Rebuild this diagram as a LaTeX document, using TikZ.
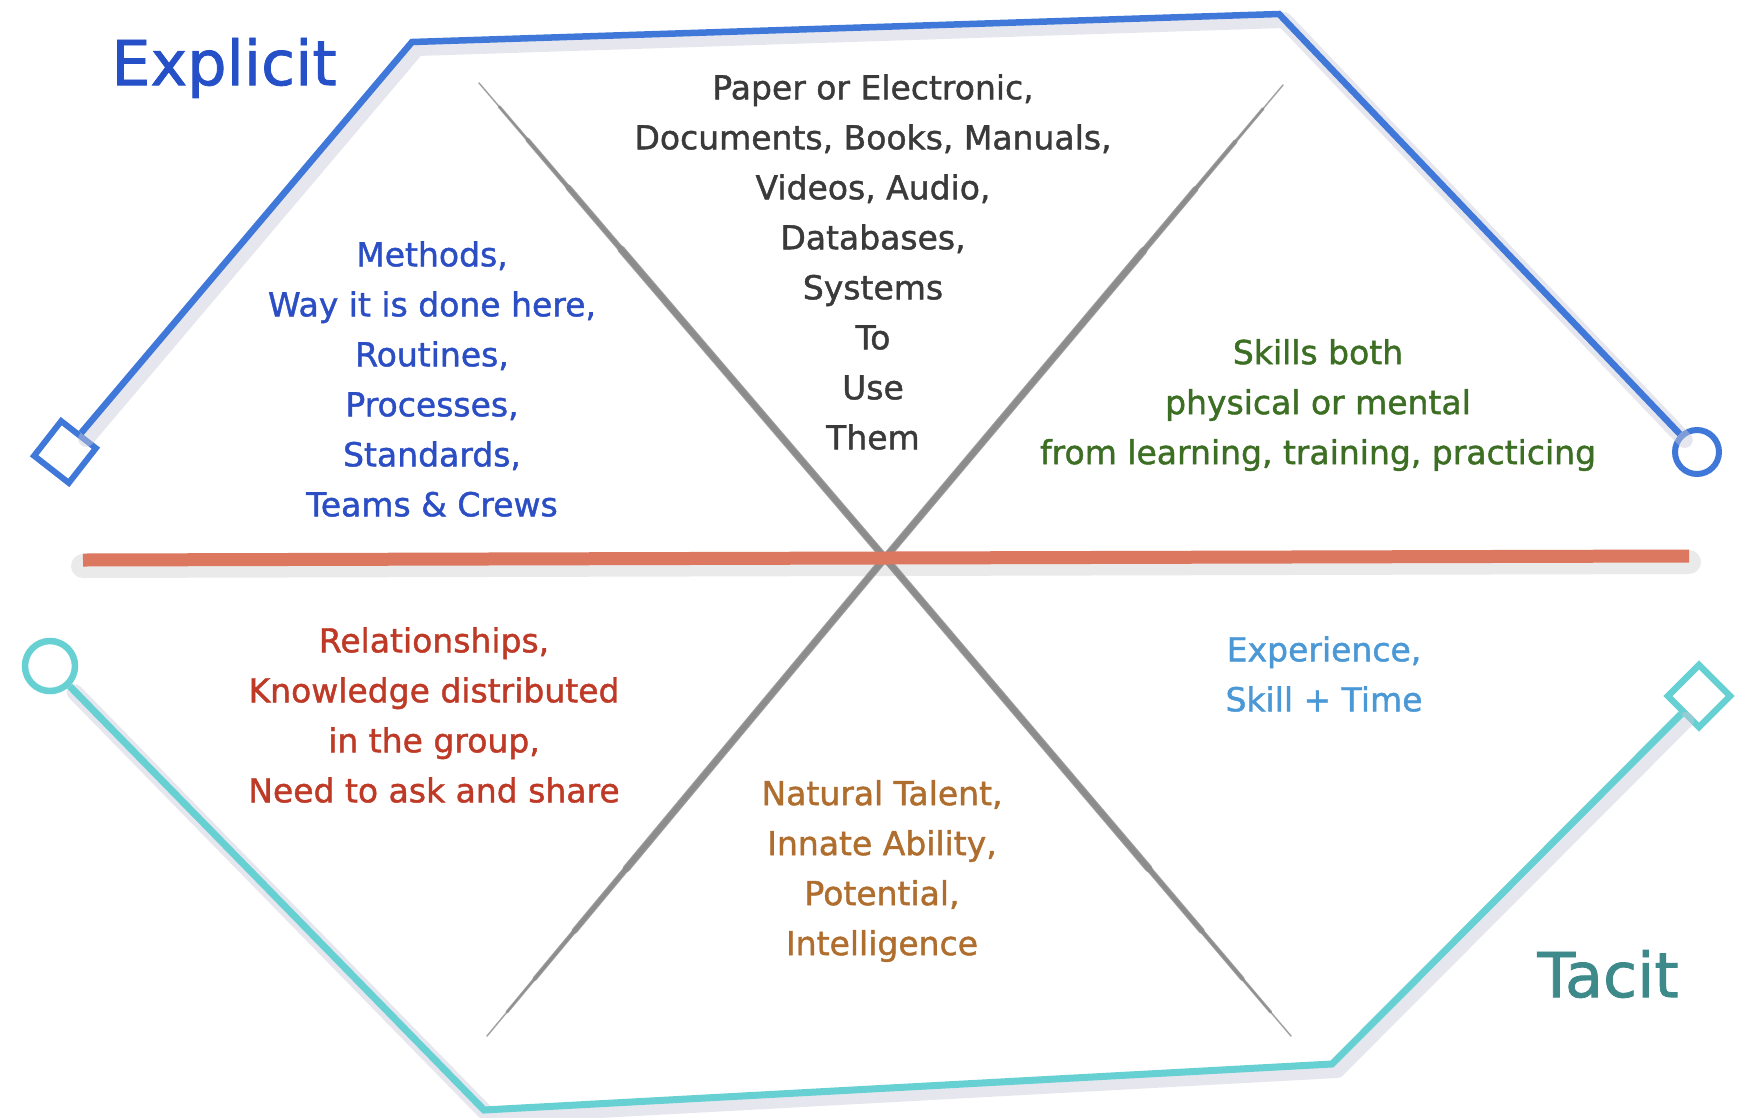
\documentclass[tikz,border=0pt]{standalone}
\usepackage{fontspec}
\setmainfont{DejaVu Sans}
\newfontfamily\sketchfont{DejaVu Sans}[FakeBold=1.3]
\usetikzlibrary{shapes.geometric}
\usetikzlibrary{calc}

\definecolor{explicitBlue}{HTML}{3F78D8}
\definecolor{tacitTeal}{HTML}{66D0D2}
\definecolor{splitRed}{HTML}{DC785F}
\definecolor{crossGray}{HTML}{8C8C8C}
\definecolor{shadowLav}{HTML}{C9C9DA}
\definecolor{methodBlue}{HTML}{2B4EC4}
\definecolor{docGray}{HTML}{3A3A3A}
\definecolor{skillGreen}{HTML}{3C6E23}
\definecolor{relRed}{HTML}{BE3A26}
\definecolor{expBlue}{HTML}{4A98D6}
\definecolor{talentBrown}{HTML}{AF6E2D}
\definecolor{explicitText}{HTML}{2550C8}
\definecolor{tacitText}{HTML}{3E8A8A}

\begin{document}
\begin{tikzpicture}[x = 1pt, y = -1pt]
	\tikzstyle{shadowStyle}=[draw = shadowLav, line width = 16pt, opacity = 0.45, line join = round, line cap = round]
	\tikzstyle{blueStyle}=[draw = explicitBlue, line width = 6.5pt, line join = miter]
	\tikzstyle{tealStyle}=[draw = tacitTeal, line width = 7pt, line join = miter]
	\tikzstyle{crossStyle}=[draw = crossGray, line cap = round, opacity = 0.8]
	\tikzstyle{textStyle}=[align = center, inner sep = 0pt, font = \sketchfont\fontsize{33}{50}\selectfont]
	\tikzstyle{titleStyle}=[inner sep = 0pt, font = \sketchfont\fontsize{62}{62}\selectfont]
	\useasboundingbox[fill = white] (0,0) rectangle (1737,1117);

	\node[shape = rectangle, minimum size = 44pt, rotate = 52, draw = explicitBlue, line width = 6pt] (blueSquare) at (65,452) {};
	\node[shape = circle, minimum size = 44pt, draw = explicitBlue, line width = 6pt] (blueRing) at (1697,452) {};
	\coordinate (blueA) at (412,42);
	\coordinate (blueB) at (1279,14);

	\node[shape = circle, minimum size = 50pt, draw = tacitTeal, line width = 6.5pt] (tealRing) at (50,666) {};
	\node[shape = rectangle, minimum size = 44pt, rotate = 45, draw = tacitTeal, line width = 6.5pt] (tealSquare) at (1699,696) {};
	\coordinate (tealA) at (484,1110);
	\coordinate (tealB) at (1332,1064);

	\coordinate (splitL) at (83,560);
	\coordinate (splitR) at (1689,556);

	\coordinate (crossC) at (885,558);
	\coordinate (crossTL) at (479,83);
	\coordinate (crossTR) at (1283,85);
	\coordinate (crossBL) at (487,1036);
	\coordinate (crossBR) at (1291,1036);

	\draw[shadowStyle, transform canvas = {shift = {(5,6)}}] (blueSquare) -- (blueA) -- (blueB) -- (blueRing);
	\draw[shadowStyle, transform canvas = {shift = {(5,6)}}] (tealRing) -- (tealA) -- (tealB) -- (tealSquare);
	\draw[shadowStyle, line width = 24pt, draw = gray!40, opacity = 0.4, transform canvas = {shift = {(0,6)}}] (splitL) -- (splitR);

	\foreach \w/\f in {1.5/0, 3/0.05, 4.5/0.12, 6/0.22, 7.5/0.35} {
		\draw[crossStyle, line width = \w pt] ($(crossTL)!\f!(crossC)$) -- (crossC) -- ($(crossBR)!\f!(crossC)$);
		\draw[crossStyle, line width = \w pt] ($(crossTR)!\f!(crossC)$) -- (crossC) -- ($(crossBL)!\f!(crossC)$);
	}

	\draw[draw = splitRed, line width = 13pt, line cap = butt] (splitL) -- (splitR);

	\draw[blueStyle] (blueSquare) -- (blueA) -- (blueB) -- (blueRing);
	\draw[tealStyle] (tealRing) -- (tealA) -- (tealB) -- (tealSquare);

	\node[titleStyle, text = explicitText] (explicit) at (224,68) {Explicit};
	\node[titleStyle, text = tacitText] (tacit) at (1608,974) {Tacit};

	\node[textStyle, text = docGray] (documents) at (873,262) {Paper or Electronic,\\Documents, Books, Manuals,\\Videos, Audio,\\Databases,\\Systems\\To\\Use\\Them};
	\node[textStyle, text = methodBlue] (methods) at (432,379) {Methods,\\Way it is done here,\\Routines,\\Processes,\\Standards,\\Teams \& Crews};
	\node[textStyle, text = skillGreen] (skills) at (1318,405) {Skills both\\physical or mental\\from learning, training, practicing};
	\node[textStyle, text = relRed] (relations) at (434,715) {Relationships,\\Knowledge distributed\\in the group,\\Need to ask and share};
	\node[textStyle, text = expBlue] (experience) at (1324,674) {Experience,\\Skill + Time};
	\node[textStyle, text = talentBrown] (talent) at (882,871) {Natural Talent,\\Innate Ability,\\Potential,\\Intelligence};
\end{tikzpicture}
\end{document}
